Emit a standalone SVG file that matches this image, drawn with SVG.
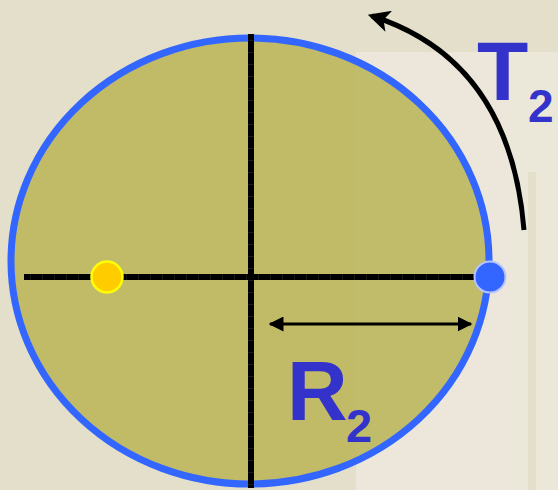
<svg xmlns="http://www.w3.org/2000/svg" width="558" height="490" viewBox="0 0 558 490">
<style>
.axis{stroke:#000;stroke-width:6;fill:none}
.tick{stroke:#1a1a12;stroke-width:6;stroke-dasharray:1 11;fill:none}
.lbl{font-family:"Liberation Sans",Arial,sans-serif;font-weight:bold;fill:#3333cc}
.conn{stroke:#000;fill:none}
</style>
<defs>
<marker id="ah" viewBox="0 0 10 10" refX="9" refY="5" markerWidth="5" markerHeight="5" orient="auto-start-reverse" markerUnits="strokeWidth">
<path d="M0,0 L10,5 L0,10 z" fill="#000"/>
</marker>
<marker id="ah2" viewBox="0 0 10 10" refX="8" refY="5" markerWidth="5" markerHeight="4.4" orient="auto" markerUnits="strokeWidth">
<path d="M0,0 L10,5 L0,10 L2.5,5 z" fill="#000"/>
</marker>
</defs>
<rect width="558" height="490" fill="#e4dfca"/>
<g id="background-page" opacity="0.9">
<rect x="356" y="52" width="202" height="438" fill="#ece8db"/>
<rect x="528" y="172" width="8" height="318" fill="#ddd6be" opacity="0.5"/>
</g>
<g id="ellipse">
<ellipse cx="250" cy="261" rx="239" ry="223" fill="#bdb75d" fill-opacity="0.9" stroke="#3366ff" stroke-width="7"/>
</g>
<g id="axes">
<line class="axis" x1="24" y1="277" x2="482" y2="277"/>
<line class="tick" x1="30" y1="277" x2="482" y2="277"/>
<line class="axis" x1="251" y1="34" x2="251" y2="488"/>
<line class="tick" x1="251" y1="40" x2="251" y2="488"/>
</g>
<g id="connectors">
<line class="conn" x1="270" y1="324" x2="471" y2="324" stroke-width="3" marker-start="url(#ah)" marker-end="url(#ah)"/>
<path class="conn" d="M524 230 Q510 60 372 16" stroke-width="5" marker-end="url(#ah2)"/>
</g>
<g id="yellow-dot">
<circle cx="107" cy="277" r="15.5" fill="#ffcc00" stroke="#ffff00" stroke-width="2.5"/>
</g>
<g id="blue-dot">
<circle cx="490" cy="277" r="15.5" fill="#3366ff" stroke="#b8c4ff" stroke-width="2"/>
</g>
<g id="label-T2">
<text class="lbl" x="477" y="100" font-size="84">T</text>
<text class="lbl" x="528" y="122" font-size="46">2</text>
</g>
<g id="label-R2">
<text class="lbl" x="287" y="420" font-size="84">R</text>
<text class="lbl" x="346" y="442" font-size="47">2</text>
</g>
</svg>
